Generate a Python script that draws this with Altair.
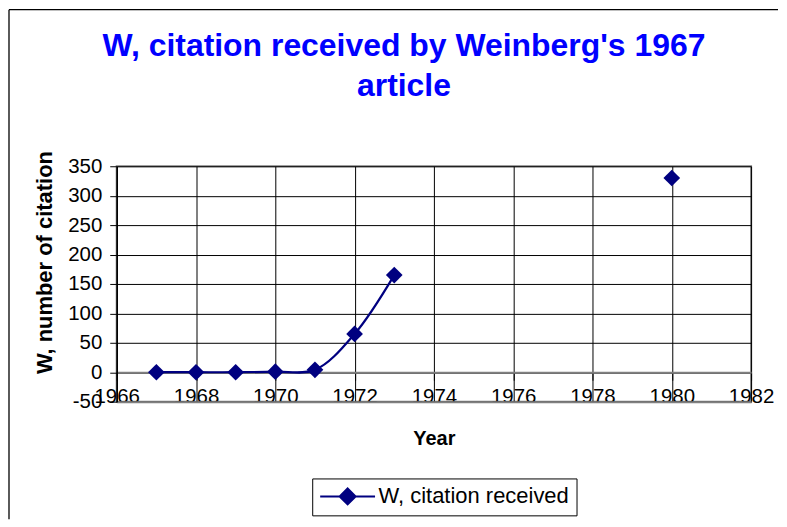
import altair as alt
import pandas as pd

years = [1967, 1968, 1969, 1970, 1971, 1972, 1973, 1980]
citations = [0, 0, 0, 1, 4, 65, 165, 330]
series_name = "W, citation received"
title_lines = ["W, citation received by Weinberg's 1967", "article"]
x_ticks = [1966, 1968, 1970, 1972, 1974, 1976, 1978, 1980, 1982]
y_ticks = [-50, 0, 50, 100, 150, 200, 250, 300, 350]

df = pd.DataFrame({"year": years, "cit": citations, "series": [series_name] * len(years)})

W, H = 636, 236
NAVY = "#000080"
FONT = "Liberation Sans"

xscale = alt.Scale(domain=[1966, 1982], nice=False, zero=False)
yscale = alt.Scale(domain=[-50, 350], nice=False)
cscale = alt.Scale(domain=[series_name], range=[NAVY])

# custom legend symbol: a line with a diamond on it (unit = 10 px for size 400)
legend_symbol = "M-2.75,0H2.75M0,-0.8L0.8,0L0,0.8L-0.8,0Z"

y_axis = alt.Axis(values=y_ticks, labelExpr="'' + datum.value", grid=True,
                  gridColor="#000000", gridWidth=1,
                  tickColor="#000", tickSize=7, labelPadding=8,
                  labelFontSize=20.5, labelFont=FONT, labelColor="#000",
                  domainColor="#000", domainWidth=1.5,
                  title="W, number of citation", titleFont=FONT,
                  titleFontSize=22, titleFontWeight="bold", titleColor="#000",
                  titleX=-72, titleY=96, titleAngle=-90,
                  titleAlign="center", titleBaseline="middle",
                  labelOverlap=False, labelFlush=False)

base = alt.Chart(df)

line = base.transform_filter("datum.year <= 1973").mark_line(
    interpolate="catmull-rom", strokeWidth=2.2, color=NAVY
).encode(
    x=alt.X("year:Q", scale=xscale,
            axis=alt.Axis(values=x_ticks, labelExpr="'' + datum.value", grid=True,
                          gridColor="#000000", gridWidth=1, ticks=False, labelPadding=-5,
                          labelBaseline="middle", labelFontSize=20.5, labelFont=FONT,
                          labelColor="#000", domainColor="#808080", domainWidth=2,
                          title="Year", titleFont=FONT, titleFontSize=20,
                          titleFontWeight="bold", titleColor="#000", titleY=37,
                          titleBaseline="middle", labelFlush=False, labelOverlap=False)),
    y=alt.Y("cit:Q", scale=yscale, axis=y_axis),
    color=alt.Color("series:N", scale=cscale,
                    legend=alt.Legend(orient="none", legendX=196, legendY=313,
                                      title=None, symbolType=legend_symbol,
                                      symbolSize=400, symbolStrokeWidth=2,
                                      symbolOffset=17.5,
                                      symbolFillColor=NAVY, symbolStrokeColor=NAVY,
                                      labelFont=FONT, labelFontSize=22, labelColor="#000",
                                      labelLimit=400, labelOffset=20, padding=7,
                                      strokeColor="#000", fillColor="white")),
)

points = base.mark_point(shape="diamond", filled=True, size=280, opacity=1, color=NAVY).encode(
    x=alt.X("year:Q", scale=xscale,
            axis=alt.Axis(values=x_ticks, orient="bottom", labels=False, grid=False,
                          ticks=True, tickSize=8, tickColor="#000",
                          domainColor="#808080", domainWidth=2,
                          offset=-(H * 50 / 400), title=None)),
    y=alt.Y("cit:Q", scale=yscale, axis=y_axis),
    color=alt.Color("series:N", scale=cscale, legend=None),
)

title1 = alt.Chart(pd.DataFrame({"t": [title_lines[0]]})).mark_text(
    font=FONT, fontSize=32, fontWeight="bold", color="#0000FF", align="center",
    baseline="alphabetic"
).encode(text="t:N", x=alt.value(288), y=alt.value(-111))
title2 = alt.Chart(pd.DataFrame({"t": [title_lines[1]]})).mark_text(
    font=FONT, fontSize=32, fontWeight="bold", color="#0000FF", align="center",
    baseline="alphabetic"
).encode(text="t:N", x=alt.value(288), y=alt.value(-70))

border_left = alt.Chart(pd.DataFrame({"a": [0]})).mark_rule(color="#000", strokeWidth=1.3).encode(
    x=alt.value(-108), y=alt.value(-157), y2=alt.value(354))
border_top = alt.Chart(pd.DataFrame({"a": [0]})).mark_rule(color="#000", strokeWidth=1.3).encode(
    x=alt.value(-108), x2=alt.value(663), y=alt.value(-157))

chart = alt.layer(border_left, border_top, line, points, title1, title2).resolve_axis(
    x="independent"
).properties(
    width=W, height=H, padding=0, background="white"
).configure_view(
    stroke="#808080", strokeWidth=2
)

chart.save("out.html", embed_options={"renderer": "svg", "actions": False})
